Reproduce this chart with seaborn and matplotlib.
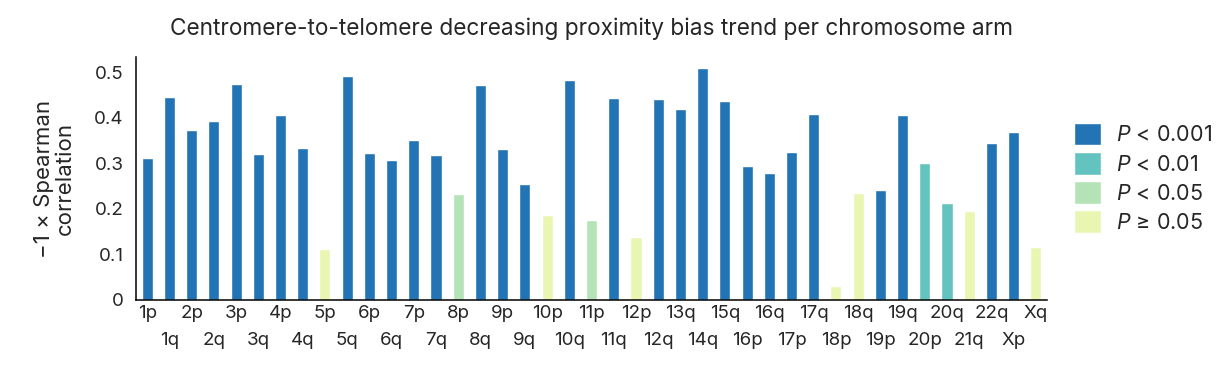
import matplotlib
matplotlib.use("Agg")
import matplotlib.pyplot as plt
import seaborn as sns
import pandas as pd

arms = ["1p","1q","2p","2q","3p","3q","4p","4q","5p","5q","6p","6q","7p","7q",
        "8p","8q","9p","9q","10p","10q","11p","11q","12p","12q","13q","14q","15q",
        "16p","16q","17p","17q","18p","18q","19p","19q","20p","20q","21q","22q","Xp","Xq"]
values = [0.311,0.445,0.373,0.393,0.474,0.320,0.406,0.333,0.112,0.491,0.322,0.307,0.351,0.318,
          0.232,0.471,0.331,0.254,0.186,0.482,0.175,0.443,0.138,0.441,0.419,0.509,0.436,
          0.294,0.278,0.325,0.408,0.031,0.235,0.241,0.406,0.300,0.213,0.195,0.344,0.368,0.116]
signif = ["a","a","a","a","a","a","a","a","d","a","a","a","a","a",
          "c","a","a","a","d","a","c","a","d","a","a","a","a",
          "a","a","a","a","d","d","a","a","b","b","d","a","a","d"]
levels = ["a","b","c","d"]
level_labels = [r"$\it{P}$ < 0.001", r"$\it{P}$ < 0.01", r"$\it{P}$ < 0.05", r"$\it{P}$ ≥ 0.05"]
colors = ["#2274b5", "#63c3bf", "#b4e3b7", "#e9f6b2"]

sns.set_style("white")
plt.rcParams['font.family'] = ['Inter', 'DejaVu Sans']
plt.rcParams['mathtext.fontset'] = 'custom'
plt.rcParams['mathtext.it'] = 'Inter:italic'
plt.rcParams['mathtext.rm'] = 'Inter'

df = pd.DataFrame({"arm": arms, "val": values, "sig": signif})

fig = plt.figure(figsize=(12.26, 3.68), dpi=100)
ax = fig.add_axes([0.111, 0.185, 0.743, 0.66])
sns.barplot(data=df, x="arm", y="val", hue="sig", hue_order=levels,
            palette=dict(zip(levels, colors)), dodge=False, width=0.5,
            saturation=1, ax=ax, legend=True)

ax.set_xlim(-0.5, 40.5)
ax.set_ylim(0, 0.533)
ax.set_yticks([0, 0.1, 0.2, 0.3, 0.4, 0.5])
ax.set_yticklabels(["0", "0.1", "0.2", "0.3", "0.4", "0.5"])
even = list(range(0, len(arms), 2))
odd = list(range(1, len(arms), 2))
ax.set_xticks(even)
ax.set_xticklabels([arms[i] for i in even])
ax.set_xticks(odd, minor=True)
ax.set_xticklabels([arms[i] for i in odd], minor=True)
ax.tick_params(axis="x", which="major", length=0, labelsize=13.5, pad=4)
ax.tick_params(axis="x", which="minor", length=0, labelsize=13.5, pad=23)
ax.tick_params(axis="y", length=0, labelsize=13.5, pad=9)
ax.set_xlabel("")
ax.set_ylabel("−1 × Spearman\ncorrelation", fontsize=16, labelpad=14, linespacing=1.05)
for s in ["top", "right"]:
    ax.spines[s].set_visible(False)
for s in ["left", "bottom"]:
    ax.spines[s].set_color("black")
    ax.spines[s].set_linewidth(1.1)
ax.set_title("Centromere-to-telomere decreasing proximity bias trend per chromosome arm",
             fontsize=16.3, pad=16)

handles, _ = ax.get_legend_handles_labels()
ax.legend(handles, level_labels, loc="upper left", bbox_to_anchor=(0.869, 0.69),
          bbox_transform=fig.transFigure, frameon=False, fontsize=15.5,
          handlelength=1.25, handleheight=1.25, labelspacing=0.3, handletextpad=0.7,
          borderaxespad=0)

fig.savefig("out.png", dpi=100)
